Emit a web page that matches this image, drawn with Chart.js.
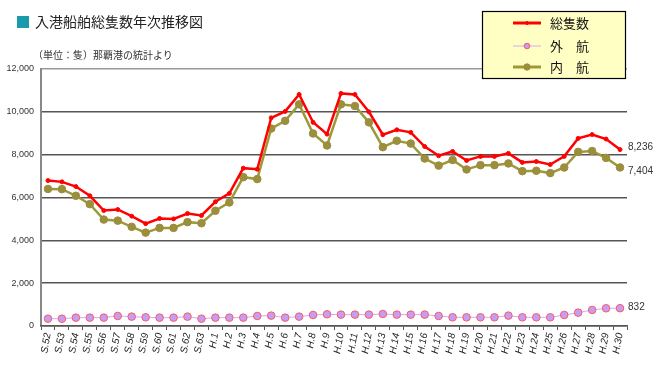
<!DOCTYPE html>
<html>
<head>
<meta charset="utf-8">
<script src="https://cdn.jsdelivr.net/npm/chart.js@4"></script>
<style>
    html, body {
        margin: 0;
        padding: 0;
        background: #ffffff;
    }
    #wrap {
        position: relative;
        width: 657px;
        height: 373px;
    }
    #title {
        position: absolute;
        left: 17px;
        top: 12px;
        font-family: "Noto Sans CJK JP", sans-serif;
        font-size: 14px;
        color: #222;
        line-height: 18px;
        white-space: nowrap;
    }
    #title span {
        display: inline-block;
        width: 12px;
        height: 12px;
        background: #1a9bab;
        margin-right: 6px;
        vertical-align: -1px;
    }
    #note {
        position: absolute;
        left: 33px;
        top: 47px;
        font-family: "Noto Sans CJK JP", sans-serif;
        font-size: 10px;
        color: #333;
        white-space: nowrap;
    }
</style>
</head>
<body>
<div id="wrap">
    <canvas id="shipChart" width="657" height="373"></canvas>
    <div id="title"><span></span>入港船舶総隻数年次推移図</div>
    <div id="note">（単位：隻）那覇港の統計より</div>
</div>

<script>

const years = [
    "S.52", "S.53", "S.54", "S.55", "S.56", "S.57", "S.58", "S.59", "S.60", "S.61", "S.62", "S.63",
    "H.1", "H.2", "H.3", "H.4", "H.5", "H.6", "H.7", "H.8", "H.9", "H.10",
    "H.11", "H.12", "H.13", "H.14", "H.15", "H.16", "H.17", "H.18", "H.19", "H.20",
    "H.21", "H.22", "H.23", "H.24", "H.25", "H.26", "H.27", "H.28", "H.29", "H.30"
];

const totalShips = [
    6790, 6730, 6510, 6080, 5390, 5440, 5130, 4780, 5020, 5000, 5250, 5160,
    5800, 6190, 7370, 7320, 9720, 10020, 10810, 9510, 8960, 10860,
    10810, 10000, 8930, 9160, 9040, 8380, 7950, 8150, 7730, 7920,
    7920, 8060, 7640, 7680, 7540, 7920, 8760, 8940, 8730, 8236
];

const foreignShips = [
    342, 340, 390, 390, 390, 468, 437, 406, 390, 390, 437, 342,
    390, 390, 390, 468, 484, 390, 437, 515, 546, 531,
    531, 531, 562, 531, 531, 531, 468, 406, 406, 406,
    406, 484, 406, 406, 406, 515, 624, 749, 827, 832
];

const domesticShips = [
    6400, 6390, 6080, 5690, 4970, 4920, 4630, 4360, 4580, 4580, 4850, 4800,
    5380, 5770, 6950, 6860, 9220, 9580, 10350, 8990, 8430, 10350,
    10270, 9510, 8350, 8650, 8520, 7820, 7490, 7750, 7310, 7510,
    7510, 7590, 7230, 7250, 7140, 7400, 8130, 8170, 7850, 7404
];

const seriesNames = ["総隻数", "外　航", "内　航"];

const numFont = "'Liberation Sans', Arial, sans-serif";
const jpFont = "'Noto Sans CJK JP', sans-serif";

// last value labels to the right of the lines
const endLabels = {
    id: "endLabels",
    afterDatasetsDraw(chart) {
        const ctx = chart.ctx;
        const shift = { 0: -2, 1: -1, 2: 4 };
        ctx.save();
        ctx.font = "10px " + numFont;
        ctx.fillStyle = "#333";
        ctx.textBaseline = "middle";
        ctx.textAlign = "left";
        chart.data.datasets.forEach((ds, i) => {
            const pts = chart.getDatasetMeta(i).data;
            const p = pts[pts.length - 1];
            const v = ds.data[ds.data.length - 1];
            ctx.fillText(v.toLocaleString("en-US"), p.x + 8, p.y + shift[i]);
        });
        ctx.restore();
    }
};

// legend box in the upper right
const boxLegend = {
    id: "boxLegend",
    afterDraw(chart) {
        const ctx = chart.ctx;
        const dotSize = [1.5, 2.8, 3.2];
        ctx.save();
        ctx.fillStyle = "#ffffc4";
        ctx.fillRect(482, 11, 144, 68);
        ctx.strokeStyle = "#000";
        ctx.lineWidth = 1.2;
        ctx.strokeRect(482.5, 11.5, 143, 67);

        const rows = [23, 46, 67];
        chart.data.datasets.forEach((ds, i) => {
            const y = rows[i];
            ctx.strokeStyle = ds.borderColor;
            ctx.lineWidth = i === 1 ? 1 : 3;
            ctx.beginPath();
            ctx.moveTo(513, y);
            ctx.lineTo(541, y);
            ctx.stroke();
            ctx.beginPath();
            ctx.arc(527, y, dotSize[i], 0, Math.PI * 2);
            ctx.fillStyle = ds.pointBackgroundColor;
            ctx.fill();
            ctx.lineWidth = ds.pointBorderWidth;
            ctx.strokeStyle = ds.pointBorderColor;
            ctx.stroke();
            ctx.fillStyle = "#111";
            ctx.font = "13px " + jpFont;
            ctx.textBaseline = "middle";
            ctx.fillText(seriesNames[i], 550, y);
        });
        ctx.restore();
    }
};

const ctx =
    document
        .getElementById("shipChart")
        .getContext("2d");

new Chart(ctx, {

    type: "line",

    data: {

        labels: years,

        datasets: [

            {
                label: seriesNames[0],
                data: totalShips,
                borderColor: "#ff0000",
                borderWidth: 2.5,
                pointRadius: 2,
                pointBackgroundColor: "#ff0000",
                pointBorderColor: "#ff0000",
                pointBorderWidth: 1,
                tension: 0,
                order: 1
            },

            {
                label: seriesNames[1],
                data: foreignShips,
                borderColor: "#d7a8f7",
                borderWidth: 1,
                pointRadius: 3.8,
                pointBackgroundColor: "#c49df5",
                pointBorderColor: "#ff5a5a",
                pointBorderWidth: 1,
                tension: 0,
                order: 3
            },

            {
                label: seriesNames[2],
                data: domesticShips,
                borderColor: "#9c9a38",
                borderWidth: 2.5,
                pointRadius: 3.8,
                pointBackgroundColor: "#9a8f3a",
                pointBorderColor: "#a08a45",
                pointBorderWidth: 1,
                tension: 0,
                order: 2
            }

        ]

    },

    options: {

        responsive: false,

        animation: false,

        layout: {
            padding: { left: 0, right: 30, top: 69, bottom: 0 }
        },

        plugins: {
            legend: { display: false },
            tooltip: { enabled: false }
        },

        scales: {

            y: {
                min: 0,
                max: 12000,
                afterFit(scale) {
                    scale.width = 41;
                },
                ticks: {
                    stepSize: 2000,
                    padding: 7,
                    color: "#333",
                    font: { family: numFont, size: 9 },
                    callback: v => v.toLocaleString("en-US")
                },
                grid: {
                    color: ctx => ctx.tick && ctx.tick.value === 12000 ? "#999" : "#555",
                    lineWidth: 1.5,
                    drawTicks: false
                },
                border: {
                    color: "#888",
                    width: 2
                }
            },

            x: {
                offset: true,
                afterFit(scale) {
                    scale.height = 47;
                },
                ticks: {
                    minRotation: 80,
                    maxRotation: 80,
                    autoSkip: false,
                    padding: 2,
                    color: "#222",
                    font: { family: numFont, size: 10, style: "italic" }
                },
                grid: {
                    offset: true,
                    drawOnChartArea: false,
                    drawTicks: true,
                    tickLength: 4,
                    color: "#555"
                },
                border: {
                    color: "#555",
                    width: 1.5
                }
            }

        }

    },

    plugins: [endLabels, boxLegend]

});

</script>
</body>
</html>
